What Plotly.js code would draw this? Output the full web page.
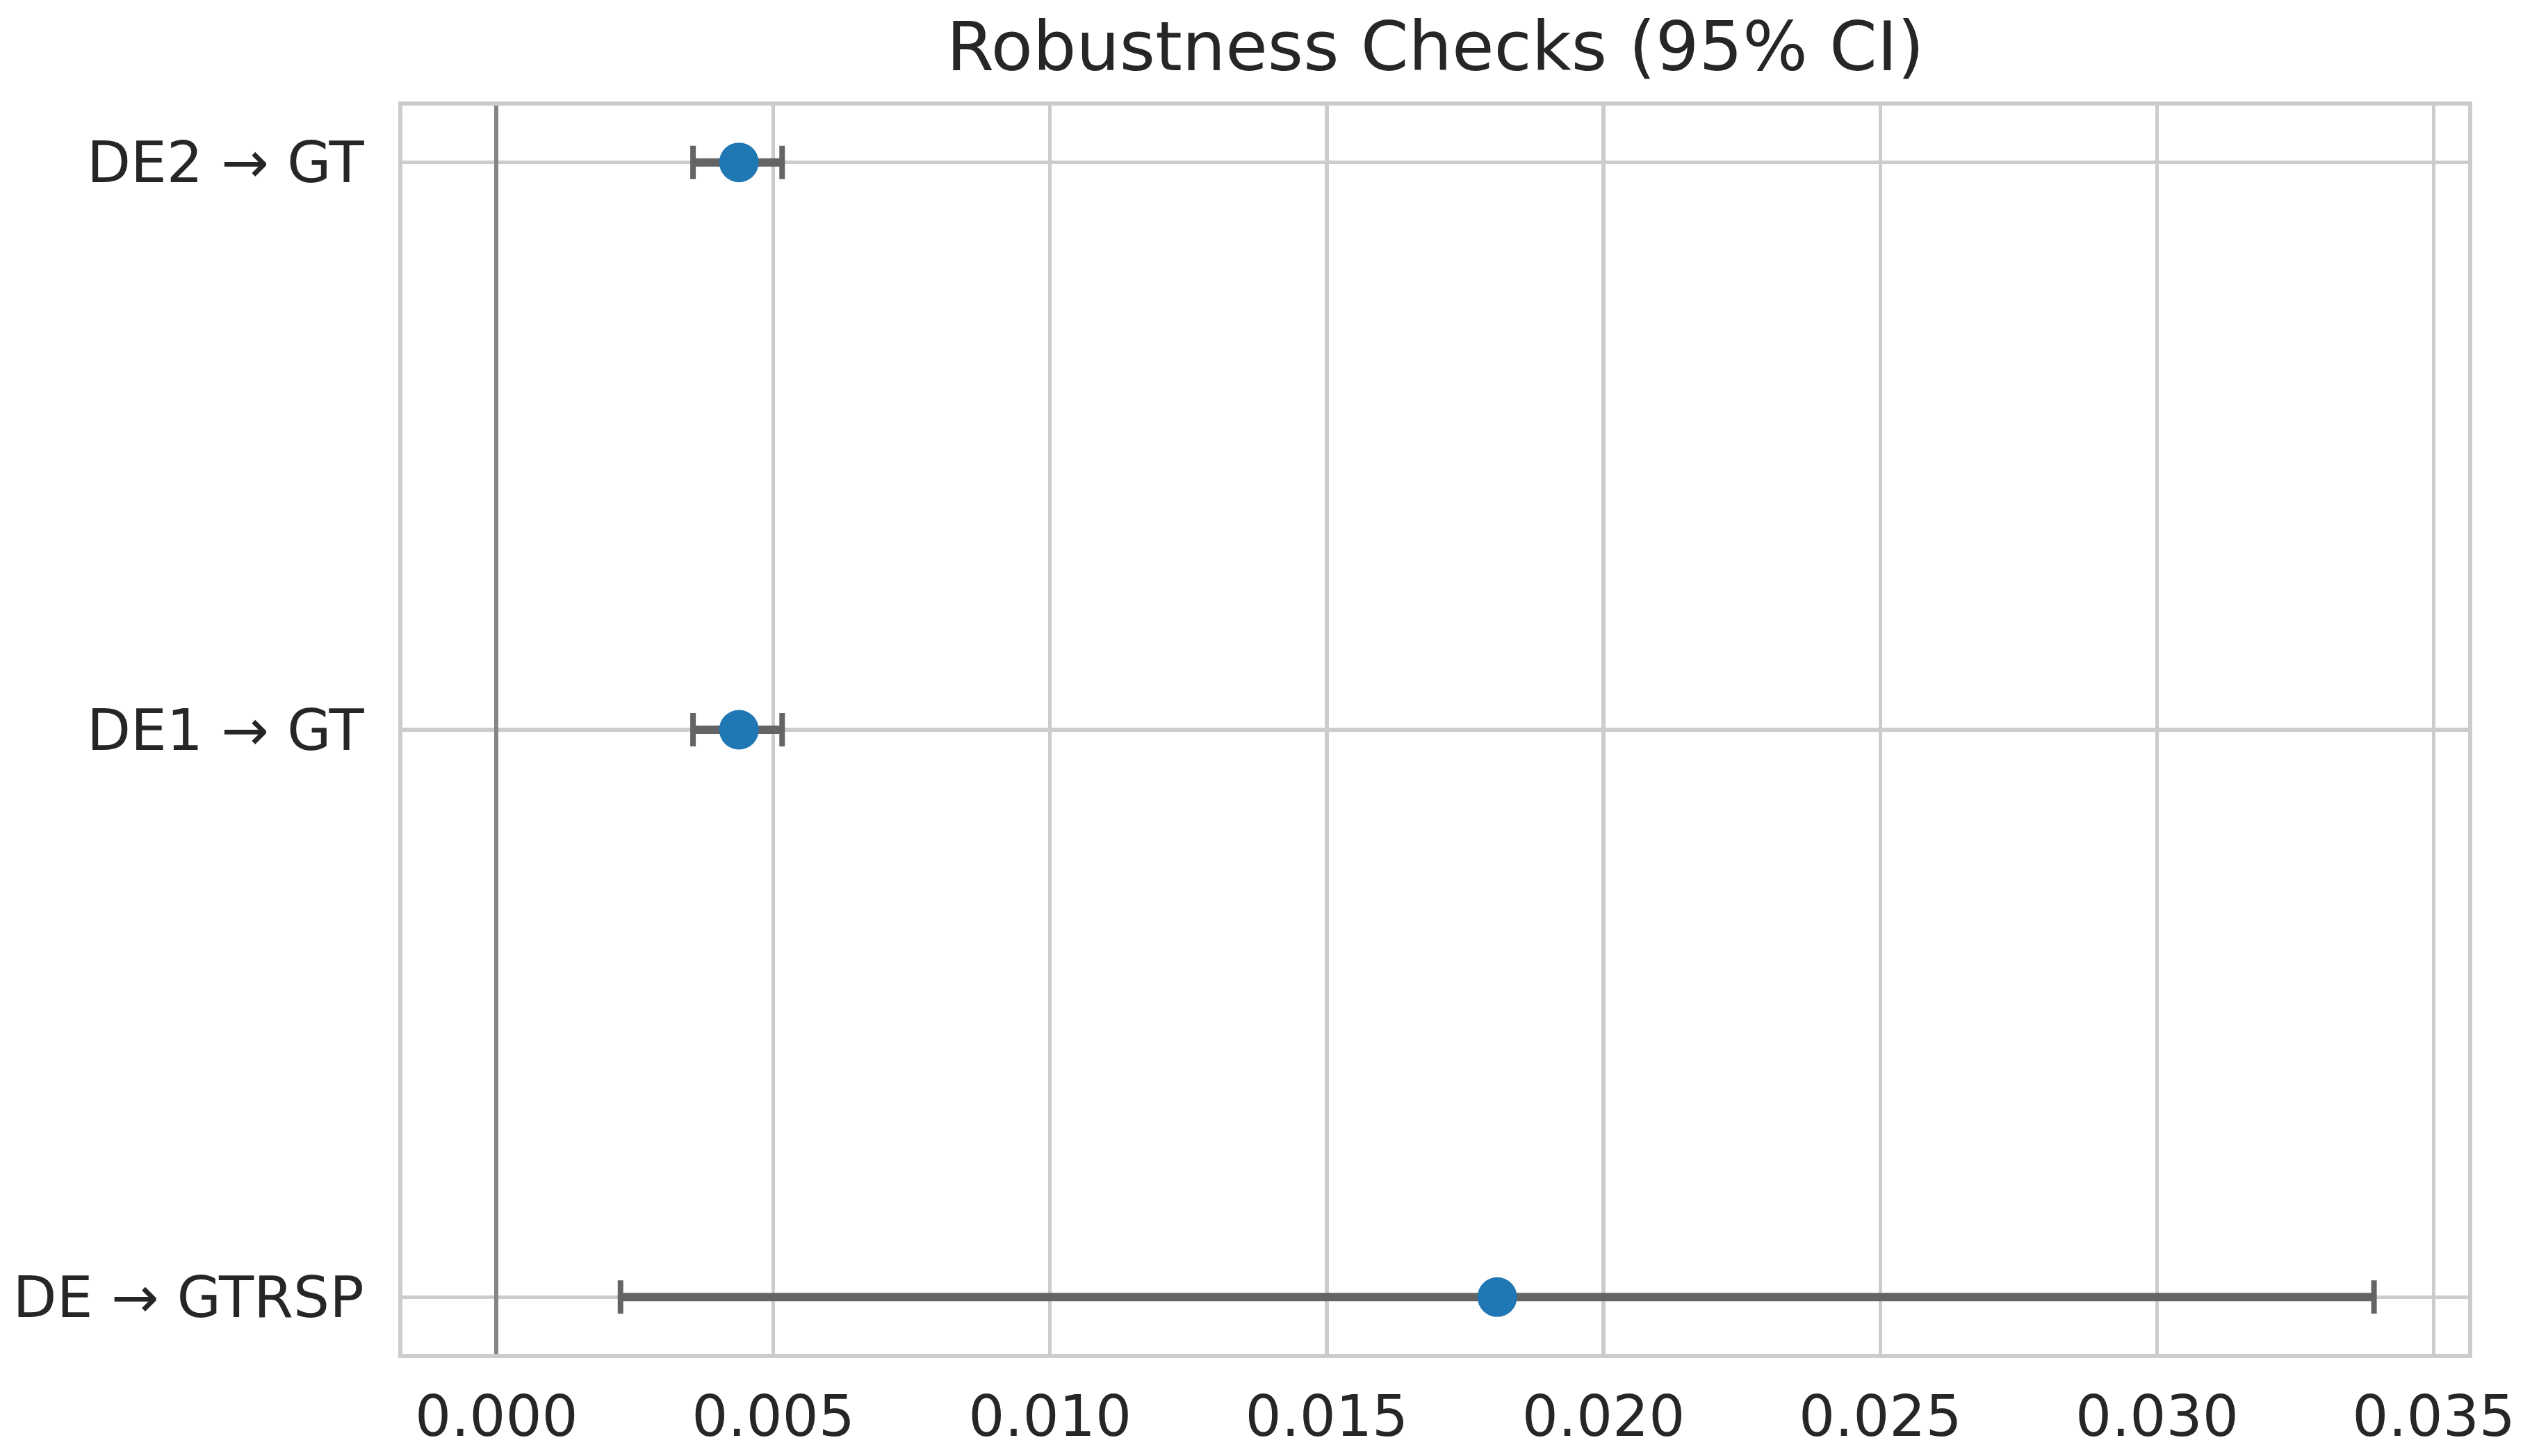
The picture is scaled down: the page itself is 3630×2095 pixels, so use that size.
<!DOCTYPE html>
<html>
<head>
<meta charset="utf-8">
<script src="https://cdn.plot.ly/plotly-3.0.1.min.js"></script>
<style>html,body{margin:0;padding:0;background:#fff;}#chart{width:3630px;height:2095px;}</style>
</head>
<body>
<div id="chart"></div>
<script>
// Data (bottom to top)
const categories = ["DE \u2192 GTRSP", "DE1 \u2192 GT", "DE2 \u2192 GT"];
const estimates = [0.01808, 0.00438, 0.00438];
const ciLower = [0.00224, 0.00355, 0.00355];
const ciUpper = [0.03392, 0.00516, 0.00516];
const xTickVals = [0, 0.005, 0.01, 0.015, 0.02, 0.025, 0.03, 0.035];
const chartTitle = "Robustness Checks (95% CI)";

const barX = [], barY = [];
categories.forEach((c, i) => {
  barX.push(ciLower[i], ciUpper[i], null);
  barY.push(c, c, null);
});

const traces = [
  {
    type: "scatter", mode: "lines", x: barX, y: barY,
    line: {color: "#646464", width: 12}, hoverinfo: "skip", showlegend: false
  },
  {
    type: "scatter", mode: "markers", x: estimates, y: categories,
    error_x: {
      type: "data", symmetric: false,
      array: estimates.map((e, i) => ciUpper[i] - e),
      arrayminus: estimates.map((e, i) => e - ciLower[i]),
      color: "#646464", thickness: 8, width: 24
    },
    marker: {color: "#1f77b4", size: 57, line: {width: 0}},
    showlegend: false
  }
];

const font = {family: "DejaVu Sans, sans-serif", color: "#262626"};

const layout = {
  width: 3630, height: 2095,
  margin: {l: 579, r: 79, t: 152, b: 147, pad: 0},
  paper_bgcolor: "#ffffff", plot_bgcolor: "#ffffff",
  font: Object.assign({size: 82}, font),
  title: {
    text: chartTitle, font: Object.assign({size: 98.5}, font),
    x: 0.5, xref: "paper", y: 1 - 67 / 2095, yref: "container", yanchor: "middle"
  },
  xaxis: {
    range: [-0.0017, 0.03562], tickvals: xTickVals, tickformat: ".3f",
    showgrid: true, gridcolor: "#cccccc", gridwidth: 5.5,
    zeroline: true, zerolinecolor: "#858585", zerolinewidth: 6,
    showline: true, mirror: true, linecolor: "#cccccc", linewidth: 6,
    ticks: "", ticklabelstandoff: 14,
    tickfont: Object.assign({size: 82}, font)
  },
  yaxis: {
    type: "category", categoryorder: "array", categoryarray: categories,
    range: [-0.1, 2.1],
    showgrid: true, gridcolor: "#cccccc", gridwidth: 5.5,
    zeroline: false,
    showline: true, mirror: true, linecolor: "#cccccc", linewidth: 6,
    ticks: "", ticklabelstandoff: 33,
    tickfont: Object.assign({size: 82}, font)
  }
};

Plotly.newPlot("chart", traces, layout, {displayModeBar: false, staticPlot: true});
</script>
</body>
</html>
